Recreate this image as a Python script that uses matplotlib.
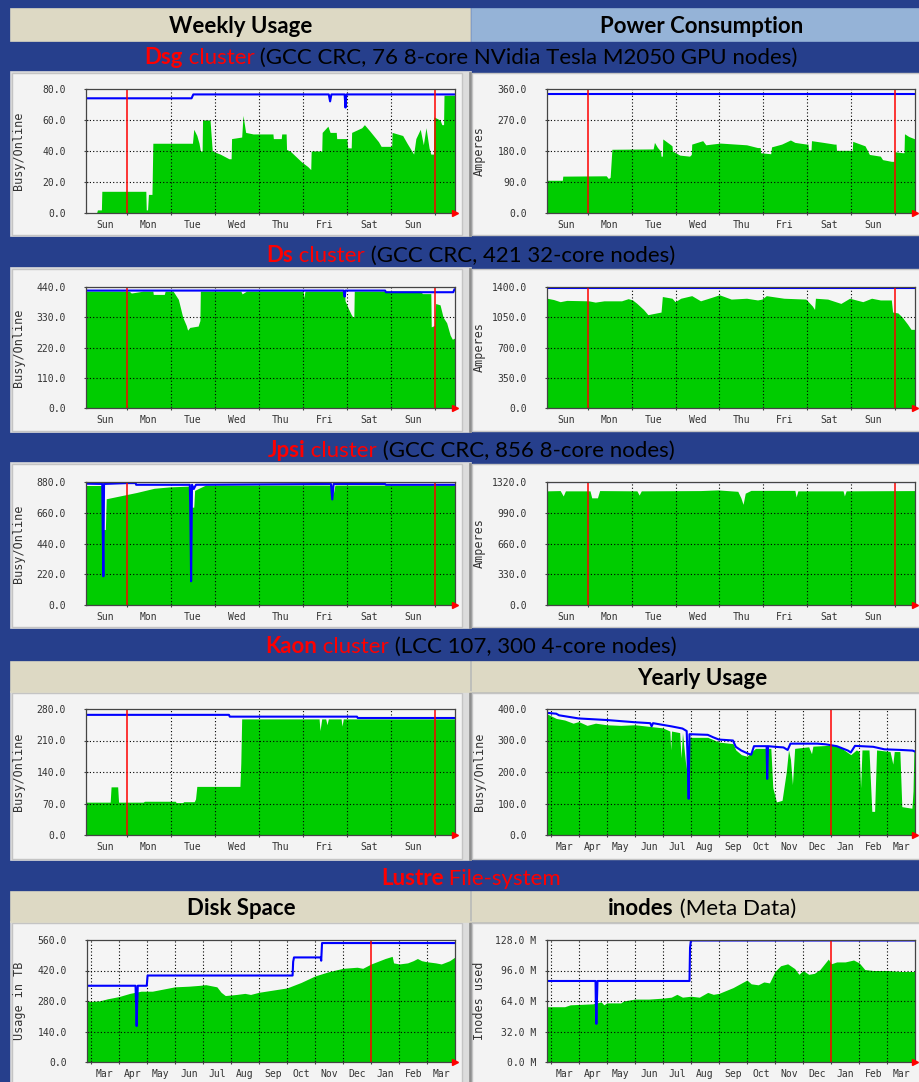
#!/usr/bin/env python3
"""Cluster monitoring dashboard: weekly / yearly usage, power and Lustre graphs."""

import matplotlib
matplotlib.use("Agg")
import matplotlib.pyplot as plt
from matplotlib.patches import Rectangle

W, H = 920, 1082
PAGE_BLUE = "#263f8c"
BEIGE = "#ddd9c4"
LIGHT_BLUE = "#95b3d7"
PANEL = "#f3f3f3"
PLOT_BG = "#f5f5f5"
GREEN = "#00cc00"
BLUE = "#0000ff"
RED = "#ff0000"
TITLE_FONT = "Lato"
MONO = "DejaVu Sans Mono"

# ---- axis labels ----------------------------------------------------------
WEEK_DAYS = ["Sun", "Mon", "Tue", "Wed", "Thu", "Fri", "Sat", "Sun"]
YEAR_MONTHS = ["Mar", "Apr", "May", "Jun", "Jul", "Aug", "Sep", "Oct",
               "Nov", "Dec", "Jan", "Feb", "Mar"]

# ---- data: (days since left edge, value) / (months since Mar 1, value) -----
DSG_BUSY = [(0.00, 0), (0.24, 0), (0.26, 2), (0.35, 2), (0.36, 14), (1.36, 14),
            (1.37, 2), (1.40, 2), (1.42, 12), (1.50, 12), (1.52, 45), (2.42, 45),
            (2.45, 54), (2.52, 50), (2.57, 45), (2.60, 40), (2.64, 40), (2.65, 60),
            (2.82, 60), (2.87, 40), (3.05, 38), (3.25, 35), (3.30, 35), (3.31, 48),
            (3.54, 49), (3.57, 63), (3.63, 52), (3.80, 51), (4.25, 51), (4.26, 48),
            (4.44, 48), (4.45, 51), (4.55, 51), (4.56, 41), (4.64, 40), (4.90, 33),
            (5.04, 30), (5.11, 28), (5.12, 40), (5.36, 40), (5.37, 52), (5.50, 56),
            (5.55, 52), (5.69, 52), (5.70, 48), (5.93, 48), (5.95, 42), (6.03, 42),
            (6.04, 52), (6.27, 55), (6.33, 57), (6.45, 53), (6.65, 46), (6.71, 43),
            (6.95, 43), (6.96, 52), (7.20, 50), (7.30, 45), (7.45, 38), (7.50, 48),
            (7.60, 54), (7.67, 44), (7.73, 55), (7.80, 42), (7.84, 38), (7.90, 38),
            (7.91, 62), (8.05, 60), (8.09, 57), (8.13, 57), (8.14, 76), (8.39, 76)]
DSG_ONLINE = [(0.00, 74), (2.40, 74), (2.44, 76.5), (5.52, 76.5), (5.55, 72),
              (5.58, 76.5), (5.88, 76.5), (5.90, 68), (5.92, 76.5), (8.39, 76.5)]

DSG_AMPS = [(0.00, 95), (0.35, 95), (0.36, 107), (1.35, 108), (1.40, 100), (1.44, 104),
            (1.48, 185), (2.42, 186), (2.45, 205), (2.52, 190), (2.59, 180), (2.60, 165),
            (2.63, 165), (2.64, 215), (2.80, 200), (2.85, 195), (2.86, 180), (3.03, 168),
            (3.25, 165), (3.29, 170), (3.30, 200), (3.55, 210), (3.62, 198), (3.95, 203),
            (4.55, 198), (4.80, 190), (4.86, 190), (4.87, 175), (5.10, 172), (5.12, 192),
            (5.35, 200), (5.55, 212), (5.65, 205), (5.92, 200), (5.95, 200), (5.96, 183),
            (6.02, 183), (6.03, 210), (6.30, 205), (6.55, 200), (6.59, 200), (6.60, 182),
            (6.96, 182), (6.97, 208), (7.25, 195), (7.35, 170), (7.60, 165), (7.65, 155),
            (7.85, 150), (7.91, 150), (7.92, 178), (8.10, 175), (8.14, 175), (8.15, 230),
            (8.25, 222), (8.39, 215)]
DSG_AMPS_MAX = [(0.00, 345), (8.39, 345)]

DS_BUSY = [(0.00, 425), (0.98, 425), (1.03, 418), (1.30, 425), (1.52, 425), (1.53, 413),
           (1.78, 413), (1.80, 425), (1.98, 425), (2.10, 395), (2.20, 330), (2.28, 300),
           (2.31, 283), (2.36, 293), (2.55, 298), (2.59, 318), (2.60, 425), (3.52, 425),
           (3.55, 415), (3.65, 425), (4.94, 425), (4.95, 400), (4.98, 425), (5.88, 425),
           (5.89, 390), (5.97, 360), (6.03, 340), (6.07, 330), (6.09, 330), (6.10, 425),
           (7.60, 425), (7.65, 416), (7.84, 416), (7.85, 295), (7.92, 300), (7.95, 380),
           (8.05, 375), (8.12, 330), (8.20, 310), (8.28, 265), (8.33, 250), (8.39, 255)]
DS_ONLINE = [(0.00, 427), (5.86, 427), (5.88, 405), (5.90, 427), (6.80, 427),
             (6.82, 421), (8.35, 421), (8.38, 432), (8.39, 432)]

DS_AMPS = [(0.00, 1270), (0.15, 1255), (0.30, 1230), (0.45, 1245), (0.95, 1240),
           (1.10, 1225), (1.30, 1240), (1.70, 1240), (1.85, 1265), (1.95, 1250),
           (2.05, 1210), (2.20, 1140), (2.30, 1080), (2.50, 1100), (2.60, 1110),
           (2.63, 1290), (2.85, 1270), (2.92, 1230), (3.05, 1270), (3.30, 1300),
           (3.50, 1240), (3.75, 1280), (3.93, 1310), (4.20, 1260), (4.55, 1270),
           (4.80, 1250), (4.90, 1260), (5.00, 1300), (5.40, 1270), (5.90, 1260),
           (6.05, 1180), (6.10, 1140), (6.12, 1270), (6.40, 1260), (6.70, 1210),
           (6.90, 1270), (7.05, 1250), (7.20, 1230), (7.40, 1270), (7.60, 1250),
           (7.85, 1250), (7.88, 1110), (8.00, 1100), (8.10, 1050), (8.22, 970),
           (8.30, 910), (8.39, 910)]
DS_AMPS_MAX = [(0.00, 1390), (8.39, 1390)]

JPSI_BUSY = [(0.00, 855), (0.36, 855), (0.38, 540), (0.44, 540), (0.46, 760),
             (0.92, 790), (1.15, 805), (1.55, 835), (1.90, 845), (2.30, 850),
             (2.36, 850), (2.38, 700), (2.45, 700), (2.47, 820), (2.60, 840),
             (2.72, 858), (5.60, 858), (5.62, 790), (5.66, 858), (8.39, 858)]
JPSI_ONLINE = [(0.00, 868), (0.37, 866), (0.38, 540), (0.395, 205), (0.41, 866),
               (0.92, 872), (1.13, 872), (1.14, 860), (2.36, 860), (2.37, 720),
               (2.39, 170), (2.41, 860), (2.45, 830), (2.50, 860), (5.57, 866),
               (5.60, 755), (5.63, 866), (6.80, 866), (6.82, 860), (8.39, 860)]

JPSI_AMPS = [(0.00, 1225), (0.30, 1228), (0.37, 1170), (0.42, 1225), (0.98, 1225),
             (1.02, 1150), (1.15, 1150), (1.20, 1228), (2.05, 1225), (2.10, 1180),
             (2.15, 1225), (3.50, 1228), (3.90, 1235), (4.35, 1220), (4.42, 1150),
             (4.47, 1080), (4.52, 1200), (4.65, 1230), (5.65, 1230), (5.68, 1160),
             (5.72, 1225), (6.75, 1225), (6.78, 1170), (6.82, 1225), (8.39, 1228)]
JPSI_AMPS_MAX = [(0.00, 1315), (8.39, 1315)]

KAON_BUSY = [(0.00, 73), (0.55, 73), (0.57, 107), (0.72, 107), (0.74, 73), (1.30, 73),
             (1.33, 75), (2.03, 75), (2.05, 72), (2.20, 72), (2.22, 74), (2.46, 74),
             (2.49, 80), (2.52, 108), (3.50, 108), (3.52, 160), (3.54, 258), (5.30, 258),
             (5.32, 232), (5.36, 258), (5.45, 258), (5.48, 245), (5.51, 258), (5.80, 258),
             (5.82, 242), (5.85, 258), (8.39, 258)]
KAON_ONLINE = [(0.00, 267), (3.25, 267), (3.27, 263), (6.16, 263), (6.18, 260), (8.39, 260)]

KAON_YEAR_BUSY = [(-0.14, 385), (0.2, 370), (0.5, 365), (0.8, 355), (1.0, 360),
                  (1.3, 348), (1.6, 355), (2.0, 350), (2.5, 348), (3.0, 350),
                  (3.5, 345), (4.0, 340), (4.25, 330), (4.28, 270), (4.31, 330),
                  (4.6, 325), (4.65, 245), (4.70, 325), (4.83, 210), (4.86, 320),
                  (4.90, 120), (4.93, 310), (5.6, 310), (6.0, 295), (6.5, 290),
                  (6.6, 270), (6.8, 255), (7.0, 250), (7.3, 275), (7.85, 275),
                  (7.92, 150), (8.05, 105), (8.25, 110), (8.4, 200), (8.48, 270),
                  (8.55, 240), (8.62, 160), (8.7, 275), (9.2, 280), (9.3, 258),
                  (9.35, 282), (10.0, 285), (10.3, 280), (10.7, 255), (10.9, 270),
                  (11.0, 265), (11.05, 150), (11.1, 270), (11.35, 270), (11.45, 75),
                  (11.55, 75), (11.62, 270), (12.1, 265), (12.2, 225), (12.25, 265),
                  (12.45, 265), (12.52, 90), (12.88, 85), (12.92, 140), (12.95, 265),
                  (12.99, 265)]
KAON_YEAR_ONLINE = [(-0.14, 388), (0.2, 385), (0.3, 380), (1.0, 370), (2.0, 365),
                    (3.0, 358), (3.55, 355), (3.6, 345), (3.65, 355), (4.3, 345),
                    (4.7, 338), (4.85, 330), (4.90, 200), (4.92, 115), (4.95, 320),
                    (5.6, 318), (5.8, 310), (6.0, 303), (6.5, 300), (6.6, 280),
                    (6.8, 268), (7.05, 258), (7.15, 255), (7.25, 282), (7.70, 282),
                    (7.72, 178), (7.75, 282), (8.0, 280), (8.3, 278), (8.45, 270),
                    (8.55, 290), (9.5, 290), (9.8, 288), (10.2, 282), (10.6, 268),
                    (10.7, 262), (10.85, 283), (11.5, 280), (11.9, 272), (12.5, 270),
                    (12.9, 268), (12.99, 265)]

DISK_USED = [(-0.12, 278), (0.3, 280), (0.6, 290), (1.0, 300), (1.4, 315), (1.8, 325),
             (2.2, 325), (2.6, 335), (3.0, 345), (3.5, 348), (3.9, 352), (4.1, 355),
             (4.5, 345), (4.65, 320), (4.8, 305), (5.2, 310), (5.5, 315), (5.7, 310),
             (6.0, 320), (6.5, 330), (7.0, 340), (7.5, 365), (8.0, 395), (8.5, 415),
             (9.0, 430), (9.5, 435), (9.7, 430), (10.0, 450), (10.5, 475), (10.75, 485),
             (10.8, 455), (11.0, 450), (11.3, 455), (11.5, 465), (11.65, 475),
             (11.8, 465), (12.0, 460), (12.3, 455), (12.5, 450), (12.8, 465), (12.99, 482)]
DISK_SIZE = [(-0.12, 350), (1.60, 350), (1.62, 265), (1.64, 165), (1.66, 265),
             (1.68, 350), (2.00, 350), (2.03, 397), (7.20, 397), (7.22, 460),
             (7.25, 480), (8.20, 480), (8.22, 465), (8.25, 546), (12.99, 546)]

INODES_USED = [(-0.12, 58), (0.5, 58), (0.7, 60), (1.5, 61), (1.8, 63), (1.9, 60),
               (2.0, 62), (2.5, 62), (2.6, 64), (3.0, 66), (3.5, 66), (4.0, 67),
               (4.3, 68), (4.5, 71), (4.7, 68), (5.0, 69), (5.3, 68), (5.6, 73),
               (5.8, 71), (6.0, 72), (6.5, 78), (7.0, 86), (7.15, 82), (7.4, 81),
               (7.6, 84), (7.8, 83), (8.0, 95), (8.2, 101), (8.45, 103), (8.7, 98),
               (8.85, 92), (9.0, 96), (9.2, 92), (9.4, 93), (9.6, 97), (9.9, 108),
               (10.0, 103), (10.2, 105), (10.5, 105), (10.8, 107), (11.0, 104),
               (11.2, 97), (11.5, 96), (12.0, 96), (12.5, 95), (12.99, 95)]
INODES_MAX = [(-0.12, 85), (1.60, 85), (1.61, 64), (1.63, 40), (1.65, 64), (1.67, 85),
              (4.95, 85), (4.97, 120), (5.00, 127.5), (12.99, 127.5)]

fig = plt.figure(figsize=(W / 100, H / 100), dpi=100)
fig.patch.set_facecolor(PAGE_BLUE)
bg = fig.add_axes([0, 0, 1, 1])
bg.set_xlim(0, W)
bg.set_ylim(H, 0)
bg.axis("off")


def box(x0, y0, x1, y1, color, edge=None, lw=1.2):
    bg.add_patch(Rectangle((x0, y0), x1 - x0, y1 - y0, facecolor=color,
                           edgecolor=edge or color, lw=lw))


def rich_line(xc, baseline, parts, size=16):
    """Place (text, colour, weight) pieces side by side, centred on xc."""
    renderer = fig.canvas.get_renderer()
    texts = [bg.text(0, baseline, s, color=c, fontweight=w, fontsize=size,
                     family=TITLE_FONT, ha="left", va="baseline")
             for s, c, w in parts]
    widths = [t.get_window_extent(renderer).width for t in texts]
    x = xc - sum(widths) / 2
    for t, w in zip(texts, widths):
        t.set_x(x)
        x += w


def draw_chart(px, busy, online, ymax, ylabel, weekly, unit="", pad=13):
    x0, y0, x1, y1 = px
    ax = fig.add_axes([x0 / W, 1 - y1 / H, (x1 - x0) / W, (y1 - y0) / H])
    ax.set_facecolor(PLOT_BG)
    bx, by = zip(*busy)
    ax.fill_between(bx, by, 0, color=GREEN, lw=0, zorder=1)
    ox, oy = zip(*online)
    ax.plot(ox, oy, color=BLUE, lw=1.5, zorder=4)

    if weekly:
        xlim = (0, 8.39)
        grid_at = [0.93 + k for k in range(8)]
        red_at = [grid_at[0], grid_at[-1]]
        label_at = [0.43 + k for k in range(8)]
        labels = WEEK_DAYS
    else:
        xlim = (-0.13, 12.99)
        grid_at = list(range(13))
        red_at = [10]
        label_at = [k + 0.5 for k in range(13)]
        labels = YEAR_MONTHS
    ax.set_xlim(*xlim)
    ax.set_ylim(0, ymax)

    yt = [ymax * i / 4 for i in range(5)]
    ax.set_yticks(yt)
    ax.set_yticklabels([f"{v:.1f}{unit}" for v in yt])
    for v in yt[1:4]:
        ax.axhline(v, color="black", lw=0.8, ls=(0, (1, 2)), zorder=3)
    for g in grid_at:
        if g not in red_at:
            ax.axvline(g, color="black", lw=0.8, ls=(0, (1, 2)), zorder=3)
    for r in red_at:
        ax.axvline(r, color=RED, lw=1.1, zorder=5)

    ax.set_xticks(grid_at)
    ax.set_xticklabels([])
    ax.set_xticks(label_at, minor=True)
    ax.set_xticklabels(labels, minor=True)
    ax.tick_params(axis="x", which="minor", length=0, pad=5, labelsize=7,
                   labelfontfamily=MONO, labelcolor="#333333")
    ax.tick_params(axis="x", which="major", length=3, direction="inout", width=0.8,
                   color="#444444")
    ax.tick_params(axis="y", length=3, direction="inout", width=0.8, pad=pad,
                   labelsize=7, labelfontfamily=MONO, labelcolor="#333333",
                   color="#444444")
    for sp in ax.spines.values():
        sp.set_linewidth(0.9)
        sp.set_color("#444444")
        sp.set_zorder(6)
    ax.set_ylabel(ylabel, fontsize=8.5, family=MONO, color="#333333")
    ax.yaxis.set_label_coords(-61 / (x1 - x0), 0.5)
    ax.plot([xlim[1]], [0], marker=">", color=RED, ms=5, clip_on=False, zorder=7)
    return ax


# ---- page furniture --------------------------------------------------------
box(11, 9, 470, 41, BEIGE)
box(472, 9, 932, 41, LIGHT_BLUE)
rich_line(241, 33, [("Weekly Usage", "black", "bold")])
rich_line(702, 33, [("Power Consumption", "black", "bold")])

ROW_PANELS = [(72, 236), (268, 432), (463, 628), (692, 860), (922, 1090)]
for top, bottom in ROW_PANELS:
    box(11, top, 471, bottom, "#dcdcdc", "#dcdcdc")
    box(12, top + 1, 462, bottom - 1, PANEL, "#c4c4c4", lw=1.0)
    box(469, top, 471, bottom, "#8e8e8e", "#8e8e8e", lw=0.5)
    box(472, top + 1, 930, bottom - 1, PANEL, "#c4c4c4", lw=1.0)

box(11, 662, 470, 692, BEIGE)
box(472, 662, 932, 692, BEIGE)
rich_line(702, 685, [("Yearly Usage", "black", "bold")])

box(11, 892, 470, 922, BEIGE)
box(472, 892, 932, 922, BEIGE)
rich_line(241, 915, [("Disk Space", "black", "bold")])
rich_line(702, 915, [("inodes", "black", "bold"), (" (Meta Data)", "black", "normal")])

rich_line(471, 64, [("Dsg", RED, "bold"), (" cluster", RED, "normal"),
                    (" (GCC CRC, 76 8-core NVidia Tesla M2050 GPU nodes)", "black", "normal")])
rich_line(471, 262, [("Ds", RED, "bold"), (" cluster", RED, "normal"),
                     (" (GCC CRC, 421 32-core nodes)", "black", "normal")])
rich_line(471, 457, [("Jpsi", RED, "bold"), (" cluster", RED, "normal"),
                     (" (GCC CRC, 856 8-core nodes)", "black", "normal")])
rich_line(471, 653, [("Kaon", RED, "bold"), (" cluster", RED, "normal"),
                     (" (LCC 107, 300 4-core nodes)", "black", "normal")])
rich_line(471, 885, [("Lustre", RED, "bold"), (" File-system", RED, "normal")])

# ---- graphs ----------------------------------------------------------------
LEFT = (86, 455)
RIGHT = (547, 915)
draw_chart((LEFT[0], 89, LEFT[1], 213), DSG_BUSY, DSG_ONLINE, 80, "Busy/Online", True)
draw_chart((RIGHT[0], 89, RIGHT[1], 213), DSG_AMPS, DSG_AMPS_MAX, 360, "Amperes", True)
draw_chart((LEFT[0], 287, LEFT[1], 408), DS_BUSY, DS_ONLINE, 440, "Busy/Online", True)
draw_chart((RIGHT[0], 287, RIGHT[1], 408), DS_AMPS, DS_AMPS_MAX, 1400, "Amperes", True)
draw_chart((LEFT[0], 482, LEFT[1], 605), JPSI_BUSY, JPSI_ONLINE, 880, "Busy/Online", True)
draw_chart((RIGHT[0], 482, RIGHT[1], 605), JPSI_AMPS, JPSI_AMPS_MAX, 1320, "Amperes", True)
draw_chart((LEFT[0], 709, LEFT[1], 835), KAON_BUSY, KAON_ONLINE, 280, "Busy/Online", True)
draw_chart((RIGHT[0], 709, RIGHT[1], 835), KAON_YEAR_BUSY, KAON_YEAR_ONLINE, 400,
           "Busy/Online", False)
draw_chart((87, 940, LEFT[1], 1062), DISK_USED, DISK_SIZE, 560, "Usage in TB", False)
draw_chart((RIGHT[0], 940, RIGHT[1], 1062), INODES_USED, INODES_MAX, 128, "Inodes used",
           False, unit=" M", pad=6)

fig.savefig("out.png", dpi=100, facecolor=fig.get_facecolor())
